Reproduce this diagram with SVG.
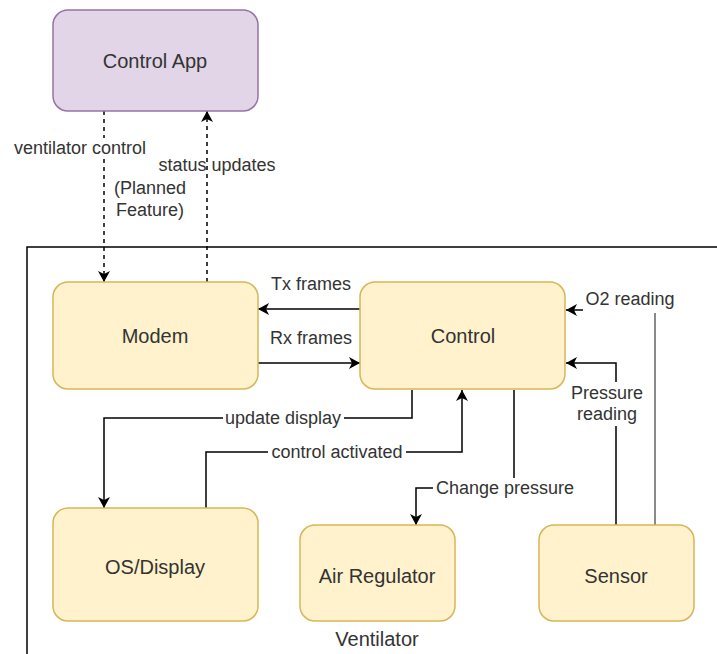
<svg xmlns="http://www.w3.org/2000/svg" width="717" height="654" viewBox="0 0 717 654">
<style>
.node{fill:#fff2cc;stroke:#d6b656;stroke-width:1.5}
.app{fill:#e1d5e7;stroke:#9673a6;stroke-width:1.5}
.nt{font-family:"Liberation Sans",Arial,sans-serif;font-size:20px;fill:#333333;text-anchor:middle}
.lt{font-family:"Liberation Sans",Arial,sans-serif;font-size:18px;fill:#333333;text-anchor:middle}
.e{fill:none;stroke:#000000;stroke-width:1.5}
.dash{stroke-dasharray:4 4}
.grey{stroke:#8a8a8a;stroke-width:2}
.bg{fill:#ffffff}
</style>
<defs>
<marker id="arr" viewBox="0 0 11 12" refX="11" refY="6" markerWidth="11" markerHeight="12" markerUnits="userSpaceOnUse" orient="auto">
<path d="M0,0 L11,6 L0,12 L3,6 z" fill="#000000"/>
</marker>
</defs>
<rect width="717" height="654" fill="#ffffff"/>
<g id="ventilator-container">
<path d="M27,654 L27,247 L717,247" fill="none" stroke="#000000" stroke-width="1.5"/>
<text class="nt" x="377" y="646">Ventilator</text>
</g>
<g id="connectors">
<path class="e dash" d="M104,111 L104,282" marker-end="url(#arr)"/>
<path class="e dash" d="M207,282 L207,111" marker-end="url(#arr)"/>
<path class="e" d="M360,309 L258,309" marker-end="url(#arr)"/>
<path class="e" d="M258,363 L360,363" marker-end="url(#arr)"/>
<path class="e grey" d="M655,525 L655,310 L583,310"/>
<path class="e" d="M584,310 L566,310" marker-end="url(#arr)"/>
<path class="e" d="M616,525 L616,363 L566,363" marker-end="url(#arr)"/>
<path class="e" d="M412,390 L412,418 L104,418 L104,508" marker-end="url(#arr)"/>
<path class="e" d="M206,508 L206,452 L462,452 L462,390" marker-end="url(#arr)"/>
<path class="e" d="M514,390 L514,488 L416,488 L416,525" marker-end="url(#arr)"/>
<rect class="bg" x="12" y="138" width="137" height="21"/>
<text class="lt" x="80" y="154">ventilator control</text>
<text class="lt" x="217" y="171">status updates</text>
<text class="lt" x="150" y="194">(Planned</text>
<text class="lt" x="150" y="216">Feature)</text>
<text class="lt" x="311" y="290">Tx frames</text>
<text class="lt" x="311" y="344">Rx frames</text>
<rect class="bg" x="583" y="288" width="96" height="25"/>
<text class="lt" x="630" y="305">O2 reading</text>
<rect class="bg" x="569" y="382" width="76" height="44"/>
<text class="lt" x="607" y="399">Pressure</text>
<text class="lt" x="607" y="420">reading</text>
<rect class="bg" x="223" y="408" width="121" height="21"/>
<text class="lt" x="283" y="424">update display</text>
<rect class="bg" x="268" y="442" width="138" height="21"/>
<text class="lt" x="337" y="458">control activated</text>
<rect class="bg" x="433" y="478" width="143" height="21"/>
<text class="lt" x="505" y="494">Change pressure</text>
</g>
<g id="control-app">
<rect class="app" x="53" y="10" width="205" height="101" rx="15"/>
<text class="nt" x="155" y="68">Control App</text>
</g>
<g id="modem">
<rect class="node" x="53" y="282" width="205" height="107" rx="15"/>
<text class="nt" x="155" y="343">Modem</text>
</g>
<g id="control">
<rect class="node" x="360" y="282" width="205" height="107" rx="15"/>
<text class="nt" x="463" y="343">Control</text>
</g>
<g id="os-display">
<rect class="node" x="53" y="508" width="205" height="113" rx="15"/>
<text class="nt" x="155" y="574">OS/Display</text>
</g>
<g id="air-regulator">
<rect class="node" x="300" y="525" width="155" height="96" rx="15"/>
<text class="nt" x="377" y="583">Air Regulator</text>
</g>
<g id="sensor">
<rect class="node" x="539" y="525" width="155" height="96" rx="15"/>
<text class="nt" x="616" y="583">Sensor</text>
</g>
</svg>
